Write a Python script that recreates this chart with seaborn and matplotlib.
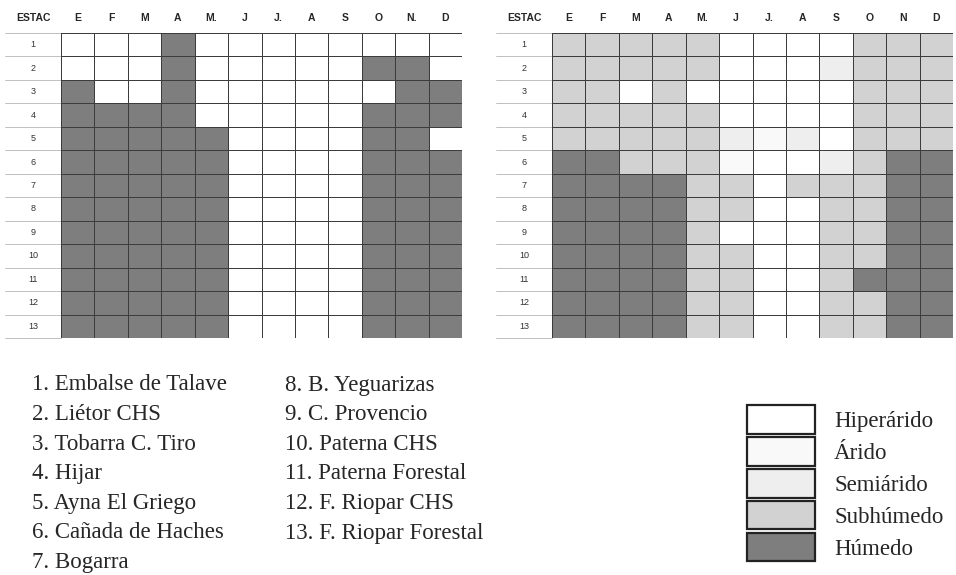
import numpy as np
import pandas as pd
import matplotlib
matplotlib.use("Agg")
import matplotlib.pyplot as plt
from matplotlib.colors import ListedColormap
from matplotlib.patches import Patch
import matplotlib.transforms as mtransforms
import seaborn as sns

# ---------------- data ----------------
meses_izq = ['E', 'F', 'M', 'A', 'M.', 'J', 'J.', 'A', 'S', 'O', 'N.', 'D']
meses_der = ['E', 'F', 'M', 'A', 'M.', 'J', 'J.', 'A', 'S', 'O', 'N', 'D']
estaciones_num = [str(i) for i in range(1, 14)]

# classes: 0 Hiperárido, 1 Árido, 2 Semiárido, 3 Subhúmedo, 4 Húmedo
izq = [
    [0, 0, 0, 4, 0, 0, 0, 0, 0, 0, 0, 0],
    [0, 0, 0, 4, 0, 0, 0, 0, 0, 4, 4, 0],
    [4, 0, 0, 4, 0, 0, 0, 0, 0, 0, 4, 4],
    [4, 4, 4, 4, 0, 0, 0, 0, 0, 4, 4, 4],
    [4, 4, 4, 4, 4, 0, 0, 0, 0, 4, 4, 0],
    [4, 4, 4, 4, 4, 0, 0, 0, 0, 4, 4, 4],
    [4, 4, 4, 4, 4, 0, 0, 0, 0, 4, 4, 4],
    [4, 4, 4, 4, 4, 0, 0, 0, 0, 4, 4, 4],
    [4, 4, 4, 4, 4, 0, 0, 0, 0, 4, 4, 4],
    [4, 4, 4, 4, 4, 0, 0, 0, 0, 4, 4, 4],
    [4, 4, 4, 4, 4, 0, 0, 0, 0, 4, 4, 4],
    [4, 4, 4, 4, 4, 0, 0, 0, 0, 4, 4, 4],
    [4, 4, 4, 4, 4, 0, 0, 0, 0, 4, 4, 4],
]
der = [
    [3, 3, 3, 3, 3, 0, 0, 0, 0, 3, 3, 3],
    [3, 3, 3, 3, 3, 0, 0, 0, 2, 3, 3, 3],
    [3, 3, 0, 3, 0, 0, 0, 0, 0, 3, 3, 3],
    [3, 3, 3, 3, 3, 0, 0, 0, 0, 3, 3, 3],
    [3, 3, 3, 3, 3, 2, 1, 2, 0, 3, 3, 3],
    [4, 4, 3, 3, 3, 1, 0, 0, 2, 3, 4, 4],
    [4, 4, 4, 4, 3, 3, 0, 3, 3, 3, 4, 4],
    [4, 4, 4, 4, 3, 3, 0, 0, 3, 3, 4, 4],
    [4, 4, 4, 4, 3, 0, 0, 0, 3, 3, 4, 4],
    [4, 4, 4, 4, 3, 3, 0, 0, 3, 3, 4, 4],
    [4, 4, 4, 4, 3, 3, 0, 0, 3, 4, 4, 4],
    [4, 4, 4, 4, 3, 3, 0, 0, 3, 3, 4, 4],
    [4, 4, 4, 4, 3, 3, 0, 0, 3, 3, 4, 4],
]
clases = ['Hiperárido', 'Árido', 'Semiárido', 'Subhúmedo', 'Húmedo']
estaciones_col1 = ['1. Embalse de Talave', '2. Liétor CHS', '3. Tobarra C. Tiro',
                   '4. Hijar', '5. Ayna El Griego', '6. Cañada de Haches', '7. Bogarra']
estaciones_col2 = ['8. B. Yeguarizas', '9. C. Provencio', '10. Paterna CHS',
                   '11. Paterna Forestal', '12. F. Riopar CHS', '13. F. Riopar Forestal']

# ---------------- style ----------------
colores = ['#ffffff', '#f9f9f9', '#eeeeee', '#d2d2d2', '#7e7e7e']
cmap = ListedColormap(colores)
sns.set_style('white')
plt.rcParams['font.family'] = ['Liberation Sans', 'DejaVu Sans']

W, H = 956, 575
fig = plt.figure(figsize=(W / 100, H / 100), dpi=100)
fig.patch.set_facecolor('white')

def px_axes(x0, y0, x1, y1):
    return fig.add_axes([x0 / W, 1 - y1 / H, (x1 - x0) / W, (y1 - y0) / H])

line_c = '#3c3c3c'

def draw_grid(ax, data, meses, label_w):
    df = pd.DataFrame(data, index=estaciones_num, columns=meses)
    sns.heatmap(df, ax=ax, cmap=cmap, vmin=-0.5, vmax=4.5, cbar=False,
                linewidths=0.6, linecolor=line_c,
                xticklabels=meses, yticklabels=estaciones_num)
    ax.xaxis.tick_top()
    ax.tick_params(axis='x', length=0, pad=7, labelsize=7.5)
    for t in ax.get_xticklabels():
        t.set_fontweight('bold')
        t.set_rotation(0)
    ax.tick_params(axis='y', length=0, pad=label_w / 2 / 1.389, labelsize=6.5,
                   labelcolor='#333333')
    for t in ax.get_yticklabels():
        t.set_horizontalalignment('center')
        t.set_rotation(0)
    # horizontal lines through the label column
    bbox = ax.get_position()
    frac = label_w / (bbox.width * W)
    tr = mtransforms.blended_transform_factory(ax.transAxes, ax.transData)
    for yy in range(0, len(data) + 1):
        ax.plot([-frac, 0], [yy, yy], transform=tr, color=line_c, lw=0.5,
                clip_on=False, alpha=0.45)
    ax.text(-frac / 2, 1.0 + 7 * 1.389 / (bbox.height * H), 'ESTAC',
            transform=ax.transAxes, ha='center', va='bottom',
            fontsize=7.5, fontweight='bold')
    for s in ax.spines.values():
        s.set_visible(False)

ax1 = px_axes(61, 33, 462, 338)
draw_grid(ax1, izq, meses_izq, 56)
ax2 = px_axes(552, 33, 953, 338)
draw_grid(ax2, der, meses_der, 56)

# station list
serif = ['Liberation Serif', 'DejaVu Serif']
step = 29.6
for i, s in enumerate(estaciones_col1):
    fig.text(32 / W, 1 - (385 + i * step) / H, s, ha='left', va='center',
             fontsize=16.5, family=serif)
for i, s in enumerate(estaciones_col2):
    fig.text(285 / W, 1 - (385 + i * step) / H, s, ha='left', va='center',
             fontsize=16.5, family=serif)

# legend
handles = [Patch(facecolor=c, edgecolor='#222222', linewidth=1.6) for c in colores]
leg = fig.legend(handles, clases, loc='upper left',
                 bbox_to_anchor=(747 / W, 1 - 405 / H), frameon=False,
                 borderpad=0, borderaxespad=0, handlelength=2.95,
                 handleheight=1.55, labelspacing=0.14, handletextpad=0.85,
                 prop={'family': serif, 'size': 16.5})

fig.savefig('out.png', dpi=100, facecolor='white')
